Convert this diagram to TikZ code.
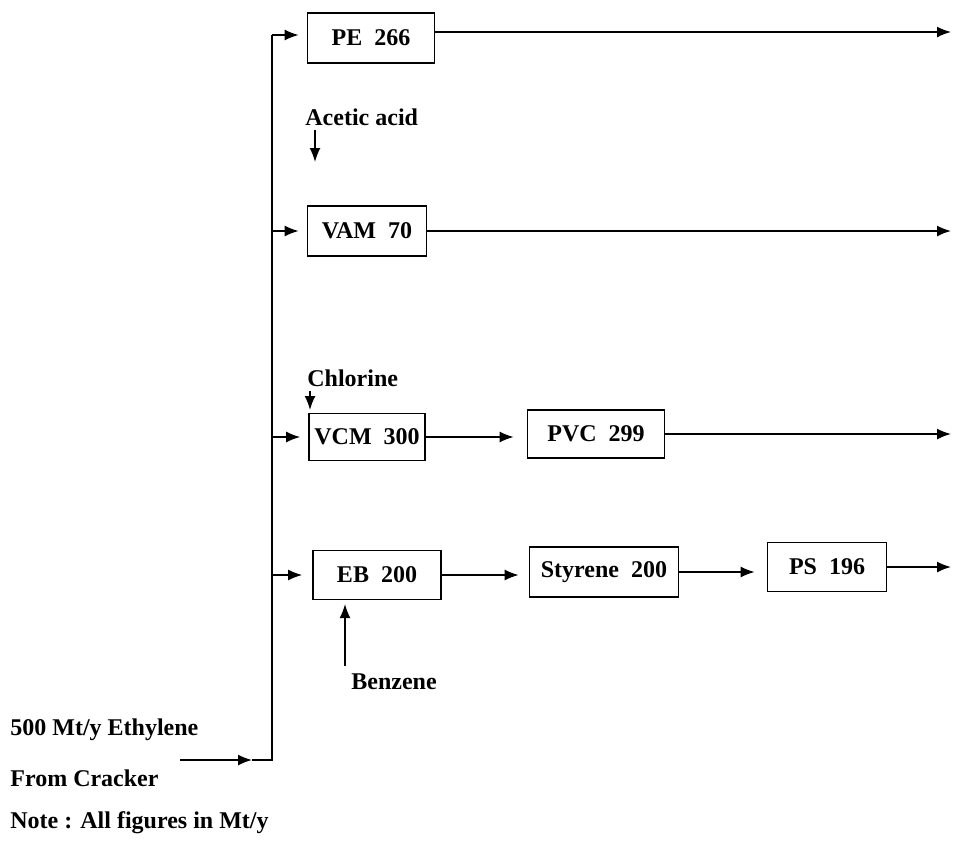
\documentclass[tikz,border=0pt]{standalone}
\usepackage{fontspec}
\setmainfont{Liberation Serif}
\usetikzlibrary{arrows.meta, positioning}

\begin{document}
\begin{tikzpicture}[x=0.5pt, y=-0.5pt,
    unit/.style={rectangle, draw, thick, fill=white, inner sep=0pt, font=\fontsize{12}{14}\selectfont\bfseries},
    label/.style={inner sep=0pt, anchor=west, font=\fontsize{12}{14}\selectfont\bfseries},
    arrow/.style={-{Latex[length=7pt, width=5.5pt]}, thick},
    line/.style={thick}
]
\useasboundingbox (0,0) rectangle (953,847);
% units
\node (pe) [unit, minimum width=63.5pt, minimum height=25pt] at (371,38) {PE\ \ 266};
\node (vam) [unit, minimum width=59.5pt, minimum height=25pt] at (367,231) {VAM\ \ 70};
\node (vcm) [unit, minimum width=58pt, minimum height=23.5pt] at (367,437) {VCM\ \ 300};
\node (pvc) [unit, minimum width=68.5pt, minimum height=24pt] at (596,434) {PVC\ \ 299};
\node (eb) [unit, minimum width=64pt, minimum height=24.5pt] at (377,575) {EB\ \ 200};
\node (sty) [unit, minimum width=74.5pt, minimum height=25pt] at (604,572) {Styrene\ \ 200};
\node (ps) [unit, minimum width=59.5pt, minimum height=24.5pt] at (827,567) {PS\ \ 196};
% texts
\node (acid) [label] at (305,117) {Acetic acid};
\node (chlor) [label] at (307,378) {Chlorine};
\node (benz) [label] at (351,682) {Benzene};
\node (feed) [label] at (10,730) {500 Mt/y Ethylene};
\node (crack) [label] at (10,778) {From Cracker};
\node (note) [label] at (10,823) {Note : All figures in Mt/y};
% bus
\coordinate (bustop) at (272,35);
\coordinate (busbot) at (272,760);
\coordinate (feedin) at (180,760);
\coordinate (feedhd) at (252,760);
\draw [arrow] (feedin) -- (feedhd);
\draw [line] (feedhd) -- (busbot) -- (bustop);
\draw [arrow, shorten >=4pt] (bustop) -- (bustop -| pe.west);
\draw [arrow, shorten >=4pt] (bustop |- vam.west) -- (vam.west);
\draw [arrow, shorten >=4pt] (bustop |- vcm.west) -- (vcm.west);
\draw [arrow, shorten >=5pt] (bustop |- eb.west) -- (eb.west);
% chains
\draw [arrow, shorten >=6.5pt] (vcm.east) -- (vcm.east -| pvc.west);
\draw [arrow, shorten >=5pt] (eb.east) -- (eb.east -| sty.west);
\draw [arrow, shorten >=6pt] (sty.east) -- (sty.east -| ps.west);
% products
\coordinate (edge) at (951,0);
\draw [arrow] ([yshift=3pt]pe.east) -- ([yshift=3pt]pe.east -| edge);
\draw [arrow] (vam.east) -- (vam.east -| edge);
\draw [arrow] (pvc.east) -- (pvc.east -| edge);
\draw [arrow] (ps.east) -- (ps.east -| edge);
% feeds
\coordinate (acidhd) at (315,162);
\coordinate (chlorhd) at (310,410);
\coordinate (benzhd) at (345,604);
\draw [arrow] ([yshift=-2pt]acid.south -| acidhd) -- (acidhd);
\draw [arrow] ([yshift=-2pt]chlor.south -| chlorhd) -- (chlorhd);
\draw [arrow] ([yshift=4pt]benz.north -| benzhd) -- (benzhd);
\end{tikzpicture}
\end{document}
